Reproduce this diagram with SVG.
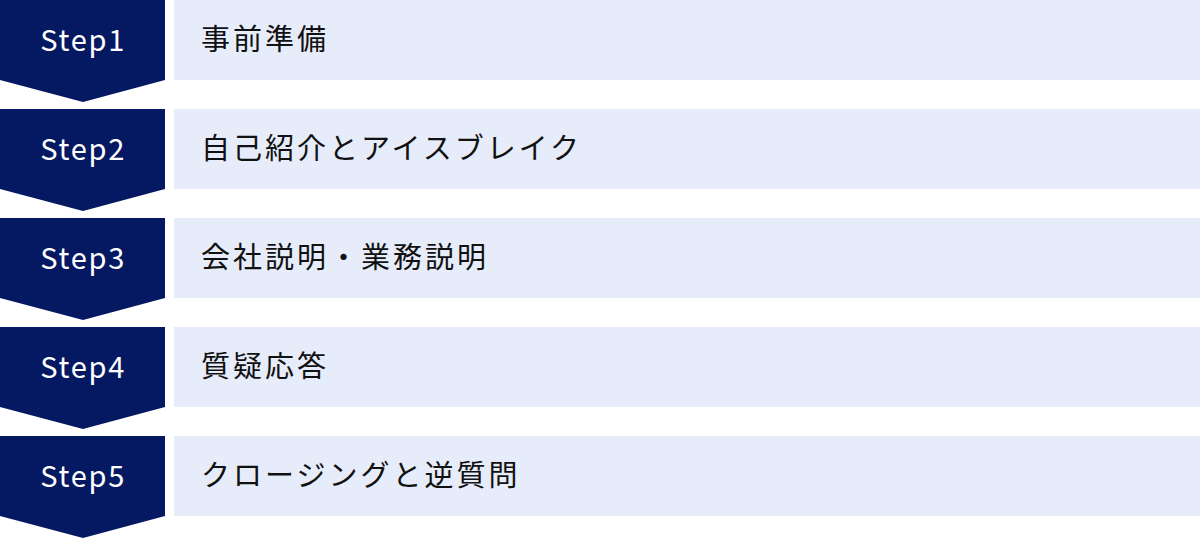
<svg xmlns="http://www.w3.org/2000/svg" width="1200" height="538" viewBox="0 0 1200 538">
<style>
.chev{fill:#051862}
.box{fill:#e6ecf9}
.step{font-family:"Noto Sans CJK JP","Noto Sans",sans-serif;font-size:29px;letter-spacing:1.8px;fill:#ffffff;text-anchor:middle}
.lbl{font-family:"Noto Sans CJK JP","Noto Sans",sans-serif;font-size:29px;letter-spacing:3px;fill:#111111}
</style>
<rect width="1200" height="538" fill="#ffffff"/>
<g id="step1">
<polygon class="chev" points="0,0 165,0 165,80 83,102 0,80"/>
<rect class="box" x="174" y="0" width="1026" height="80"/>
<text class="step" x="83.2" y="51">Step1</text>
<text class="lbl" x="201" y="50">事前準備</text>
</g>
<g id="step2">
<polygon class="chev" points="0,109 165,109 165,189 83,211 0,189"/>
<rect class="box" x="174" y="109" width="1026" height="80"/>
<text class="step" x="83.2" y="160">Step2</text>
<text class="lbl" x="201" y="159">自己紹介とアイスブレイク</text>
</g>
<g id="step3">
<polygon class="chev" points="0,218 165,218 165,298 83,320 0,298"/>
<rect class="box" x="174" y="218" width="1026" height="80"/>
<text class="step" x="83.2" y="269">Step3</text>
<text class="lbl" x="201" y="268">会社説明・業務説明</text>
</g>
<g id="step4">
<polygon class="chev" points="0,327 165,327 165,407 83,429 0,407"/>
<rect class="box" x="174" y="327" width="1026" height="80"/>
<text class="step" x="83.2" y="378">Step4</text>
<text class="lbl" x="201" y="377">質疑応答</text>
</g>
<g id="step5">
<polygon class="chev" points="0,436 165,436 165,516 83,538 0,516"/>
<rect class="box" x="174" y="436" width="1026" height="80"/>
<text class="step" x="83.2" y="487">Step5</text>
<text class="lbl" x="201" y="486">クロージングと逆質問</text>
</g>
<g id="connectors"></g>
</svg>
